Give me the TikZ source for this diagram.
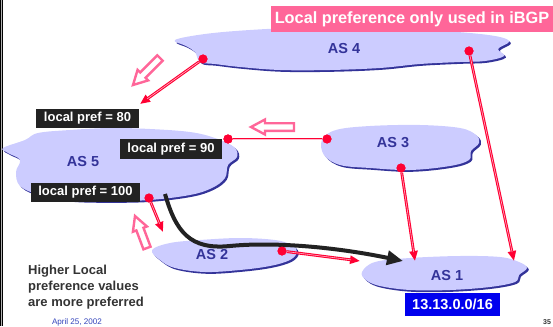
\documentclass[tikz,border=0pt]{standalone}
\usepackage{fontspec}
\setmainfont{Liberation Sans}
\usetikzlibrary{arrows.meta,calc}
\definecolor{cloudfill}{HTML}{CCCCFF}
\definecolor{cloudedge}{HTML}{333399}
\definecolor{asblue}{HTML}{333399}
\definecolor{myred}{HTML}{FF0033}
\definecolor{mypink}{HTML}{FFBBCC}
\definecolor{hollowpink}{HTML}{FF6699}
\definecolor{titlepink}{HTML}{FF6699}
\definecolor{boxdark}{HTML}{222222}
\definecolor{boxblue}{HTML}{0000EE}
\definecolor{textgray}{HTML}{333333}
\definecolor{dateblue}{HTML}{3344BB}
\newcommand\cloudpath[1]{%
  \fill[cloudedge, shift={(1.8,1.8)}] plot[smooth cycle, tension=0.6] coordinates {#1};
  \fill[cloudfill] plot[smooth cycle, tension=0.6] coordinates {#1};}
\newcommand\hollowarr[2]{% tip, tail
  \draw[hollowpink, line width=2.4pt, fill=white, line join=miter]
    (#1) -- ($($(#1)!14pt!(#2)$)!7.5pt!90:(#1)$)
    -- ($($(#1)!14pt!(#2)$)!3.8pt!90:(#1)$)
    -- ($(#2)!3.8pt!90:(#1)$)
    -- ($(#2)!3.8pt!-90:(#1)$)
    -- ($($(#1)!14pt!(#2)$)!3.8pt!-90:(#1)$)
    -- ($($(#1)!14pt!(#2)$)!7.5pt!-90:(#1)$) -- cycle;}
\tikzset{
  redline/.style={draw=myred, line width=2.8pt,
     postaction={draw=mypink, line width=0.55pt, -, shorten >=#1}},
  redline/.default=0pt,
  redarrow/.style={redline=9pt, -{Triangle[length=10pt,width=8pt]}},
  reddot/.style={circle, fill=myred, inner sep=0pt, minimum size=9pt},
  darkbox/.style={fill=boxdark, text=white, font=\fontsize{13}{15}\selectfont\bfseries, inner sep=0pt, minimum height=19pt},
  aslabel/.style={text=asblue, font=\fontsize{14.5}{16}\selectfont\bfseries, inner sep=0pt},
}
\begin{document}
\begin{tikzpicture}[x=1pt,y=-1pt]
\useasboundingbox (0,0) rectangle (553,326);
% left border
\fill[black] (0,0) rectangle (3,326);
\fill[gray!60] (1,0) rectangle (2,326);

% clouds
\cloudpath{(175,40) (205,34) (250,30) (300,28) (360,30) (420,30) (470,33) (500,37) (509,42) (498,49) (504,56) (485,61) (460,62) (420,64) (380,68) (330,70) (280,70) (240,67) (215,64) (200,62) (195,52) (186,46)}
\cloudpath{(3,148) (25,140) (38,133) (70,130) (110,128) (150,129) (190,132) (215,138) (234,147) (237,157) (228,165) (225,178) (212,188) (190,195) (150,200) (110,201) (70,200) (40,195) (20,186) (16,172) (20,160) (8,153)}
\cloudpath{(322,140) (336,130) (370,126) (420,125) (460,128) (476,135) (479,143) (471,151) (469,160) (450,166) (410,170) (370,168) (340,165) (324,155)}
\cloudpath{(152,250) (170,243) (200,240) (240,238) (275,240) (292,245) (297,252) (290,260) (270,266) (240,270) (205,272) (175,268) (160,260)}
\cloudpath{(362,272) (375,262) (410,258) (460,256) (500,257) (519,262) (527,268) (519,275) (515,282) (490,287) (450,290) (410,290) (380,286) (366,280)}

% title
\node[fill=titlepink, text=white, font=\fontsize{16.3}{18}\selectfont\bfseries, minimum width=282pt, minimum height=26pt, inner sep=0pt] (title) at (412,19) {Local preference only used in iBGP};

% AS labels
\node[aslabel] (as4) at (344,49) {AS 4};
\node[aslabel] (as5) at (83,162) {AS 5};
\node[aslabel] (as3) at (393,143) {AS 3};
\node[aslabel] (as2) at (212,255) {AS 2};
\node[aslabel] (as1) at (447,276) {AS 1};

% dots
\node[reddot] (d4a) at (203,59) {};
\node[reddot] (d4b) at (469,51) {};
\node[reddot] (d5r) at (228,139) {};
\node[reddot] (d3l) at (327,139) {};
\node[reddot] (d3b) at (401,168) {};
\node[reddot] (d5b) at (149,198) {};
\node[reddot] (d2) at (282,251) {};

% arrow ends
\coordinate (e80) at (140,104);
\coordinate (e1b) at (514,261);
\coordinate (e1a) at (415,261);
\coordinate (e2) at (163,232);
\coordinate (e1c) at (360,261);
\coordinate (c5) at (165,194);
\coordinate (e1d) at (403,261);

% red connectors
\draw[redarrow] (d4a) -- (e80);
\draw[redarrow] (d4b) -- (e1b);
\draw[redline] (d5r) -- (d3l);
\draw[redarrow] (d3b) -- (e1a);
\draw[redarrow] (d5b) -- (e2);
\draw[redarrow] (d2) -- (e1c);

% black path
\draw[boxdark, line width=4pt, -{Triangle[length=16pt,width=14pt]}] (c5) .. controls (176,232) and (190,250) .. (230,246) .. controls (270,242) and (330,246) .. (e1d);

% redraw dots on top
\foreach \d in {d4a,d4b,d5r,d3l,d3b,d5b,d2} \fill[myred] (\d) circle (4.5);

% local pref boxes
\node[darkbox, minimum width=103pt] (lp80) at (87.5,118.5) {local pref = 80};
\node[darkbox, minimum width=102pt, minimum height=20pt] (lp90) at (171,149) {local pref = 90};
\node[darkbox, minimum width=109pt] (lp100) at (85.5,192.5) {local pref = 100};
\fill[myred] (d5r) circle (4.5);

% prefix
\node[fill=boxblue, text=white, font=\fontsize{14.5}{16}\selectfont\bfseries, minimum width=95pt, minimum height=23pt, inner sep=0pt] (pfx) at (452.5,304.5) {13.13.0.0/16};

% hollow arrows
\coordinate (h1tip) at (133,85); \coordinate (h1tail) at (160,58);
\coordinate (h2tip) at (251,127); \coordinate (h2tail) at (294,127);
\coordinate (h3tip) at (135,216); \coordinate (h3tail) at (147,248);
\hollowarr{h1tip}{h1tail}
\hollowarr{h2tip}{h2tail}
\hollowarr{h3tip}{h3tail}

% notes
\node[anchor=west, align=left, text=textgray, font=\fontsize{13}{16}\selectfont\bfseries, inner sep=0pt] (note) at (28,287) {Higher Local\\preference values\\are more preferred};
\node[text=dateblue, font=\fontsize{8.1}{9}\selectfont, inner sep=0pt] (date) at (77,322) {April 25, 2002};
\node[text=textgray, font=\fontsize{7}{8}\selectfont\bfseries, inner sep=0pt] (page) at (547,322) {35};
\end{tikzpicture}
\end{document}
